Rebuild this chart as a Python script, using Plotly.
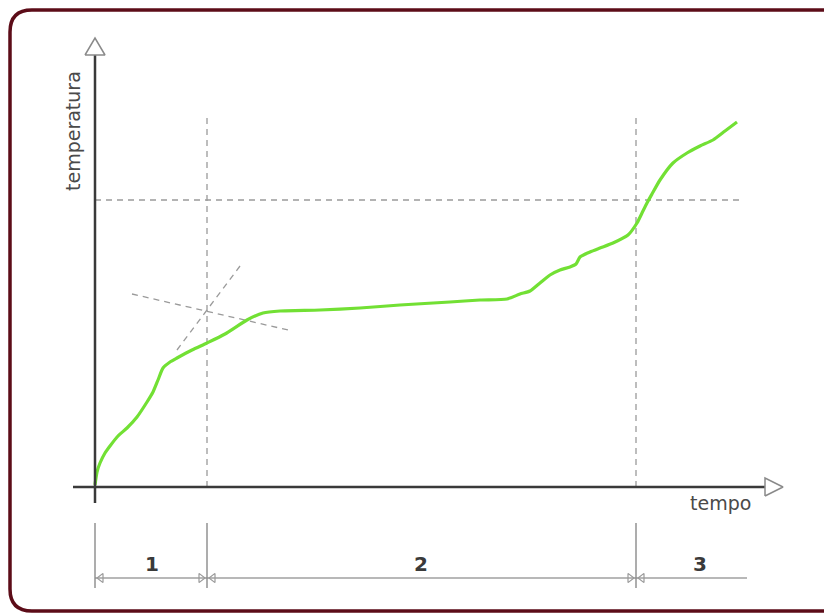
import plotly.graph_objects as go

# ---- data (time / temperature in drawing units) ----
time = [0, 2, 5, 10, 15, 23, 32, 42, 52, 58, 63, 68, 75, 82, 97, 112, 130, 152, 168, 185,
        225, 265, 305, 355, 385, 412, 425, 435, 445, 455, 465, 475, 481, 485, 495, 505,
        518, 533, 542, 547, 552, 557, 565, 578, 592, 605, 618, 630, 642]
temperature = [2, 15, 24, 34, 41, 51, 59, 70, 85, 95, 107, 119, 125, 129, 137, 144, 153, 167, 174, 176,
               177, 179, 182, 185, 187, 188, 193, 196, 204, 212, 217, 220, 223, 230, 235, 239,
               244, 252, 264, 274, 284, 293, 307, 324, 334, 341, 347, 356, 365]

phase_bounds = [0, 112, 541, 652]          # limits of phases 1, 2, 3
phase_labels = ["1", "2", "3"]
phase_label_x = [57, 326, 605]
critical_temp = 287                          # horizontal dashed reference
tangent_a = ([37, 193], [193, 157])
tangent_b = ([82, 148], [137, 225])
x_label = "tempo"
y_label = "temperatura"

# ---- layout helpers (1 unit = 1 px; page body has an 8 px margin) ----
W, H = 832, 616
BODY = 8
OX, OY = 95 - BODY, 487 - BODY
def P(px, py):
    return px - 95, 487 - py

fig = go.Figure()

GRAY = "#9a9a9a"
DASH = "6px,5px"
FONT = "DejaVu Sans, Liberation Sans, Arial"

# dashed guide lines
fig.add_trace(go.Scatter(x=[phase_bounds[1]] * 2, y=[0, 370], mode="lines",
                         line=dict(color=GRAY, width=1.3, dash=DASH), hoverinfo="skip"))
fig.add_trace(go.Scatter(x=[phase_bounds[2]] * 2, y=[0, 372], mode="lines",
                         line=dict(color=GRAY, width=1.3, dash=DASH), hoverinfo="skip"))
fig.add_trace(go.Scatter(x=[0, 645], y=[critical_temp] * 2, mode="lines",
                         line=dict(color=GRAY, width=1.3, dash=DASH), hoverinfo="skip"))
fig.add_trace(go.Scatter(x=tangent_a[0], y=tangent_a[1], mode="lines",
                         line=dict(color=GRAY, width=1.3, dash=DASH), hoverinfo="skip"))
fig.add_trace(go.Scatter(x=tangent_b[0], y=tangent_b[1], mode="lines",
                         line=dict(color=GRAY, width=1.3, dash=DASH), hoverinfo="skip"))

# curve
fig.add_trace(go.Scatter(x=time, y=temperature, mode="lines",
                         line=dict(color="#72e034", width=3.2, shape="spline", smoothing=0.6),
                         hoverinfo="skip"))

# axes
AX = "#3a3a3a"
fig.add_trace(go.Scatter(x=[0, 0], y=[-16, 432], mode="lines", line=dict(color=AX, width=2.5),
                         hoverinfo="skip"))
fig.add_trace(go.Scatter(x=[-22, 670], y=[0, 0], mode="lines", line=dict(color=AX, width=2.5),
                         hoverinfo="skip"))
# arrow heads (open triangles)
fig.add_trace(go.Scatter(x=[-10, 10, 0, -10], y=[432, 432, 449, 432], mode="lines", fill="toself",
                         fillcolor="white", line=dict(color="#8a8a8a", width=1.5), hoverinfo="skip"))
fig.add_trace(go.Scatter(x=[670, 670, 688, 670], y=[-9, 9, 0, -9], mode="lines", fill="toself",
                         fillcolor="white", line=dict(color="#8a8a8a", width=1.5), hoverinfo="skip"))

# dimension line
DIM_Y = -91
fig.add_trace(go.Scatter(x=[phase_bounds[0], phase_bounds[-1]], y=[DIM_Y, DIM_Y], mode="lines",
                         line=dict(color="#a0a0a0", width=1.4), hoverinfo="skip"))
for b in phase_bounds[:3]:
    fig.add_trace(go.Scatter(x=[b, b], y=[-36, -101], mode="lines",
                             line=dict(color="#8a8a8a", width=1.4), hoverinfo="skip"))
# small arrow ticks
left_tips = [phase_bounds[0], phase_bounds[1], phase_bounds[2]]
right_tips = [phase_bounds[1], phase_bounds[2]]
fig.add_trace(go.Scatter(x=[t + 6 for t in left_tips], y=[DIM_Y] * 3, mode="markers",
                         marker=dict(symbol="triangle-left-open", size=8, color="#9a9a9a",
                                     line=dict(width=1.2)), hoverinfo="skip"))
fig.add_trace(go.Scatter(x=[t - 6 for t in right_tips], y=[DIM_Y] * 2, mode="markers",
                         marker=dict(symbol="triangle-right-open", size=8, color="#9a9a9a",
                                     line=dict(width=1.2)), hoverinfo="skip"))

# labels
for m, lab in zip(phase_label_x, phase_labels):
    fig.add_annotation(x=m, y=-77, text="<b>" + lab + "</b>", showarrow=False,
                       font=dict(family=FONT, size=20, color="#3a3a3a"))
fig.add_annotation(x=-22, y=356, text=y_label, textangle=-90, showarrow=False,
                   font=dict(family=FONT, size=19, color="#4a4a4a"))
fig.add_annotation(x=625, y=-16, text=x_label, showarrow=False,
                   font=dict(family=FONT, size=19, color="#4a4a4a"))

# rounded border, open on the right (it runs off the picture)
x0, y0, xr, y1, r = 10, 10, 900, 611, 22
def seg(px, py):
    x, y = P(px, py)
    return f"{x},{y}"
path = (f"M {seg(xr, y0)} L {seg(x0 + r, y0)} Q {seg(x0, y0)} {seg(x0, y0 + r)} "
        f"L {seg(x0, y1 - r)} Q {seg(x0, y1)} {seg(x0 + r, y1)} L {seg(xr, y1)}")
fig.add_shape(type="path", path=path, xref="x", yref="y",
              line=dict(color="#5c0c18", width=3.5), layer="below")

fig.update_layout(
    width=W, height=H, margin=dict(l=0, r=0, t=0, b=0),
    paper_bgcolor="white", plot_bgcolor="rgba(0,0,0,0)", showlegend=False,
    xaxis=dict(range=[-OX, W - OX], visible=False, fixedrange=True),
    yaxis=dict(range=[OY - H, OY], visible=False, fixedrange=True),
)
fig.write_html("out.html", config={"displayModeBar": False})
